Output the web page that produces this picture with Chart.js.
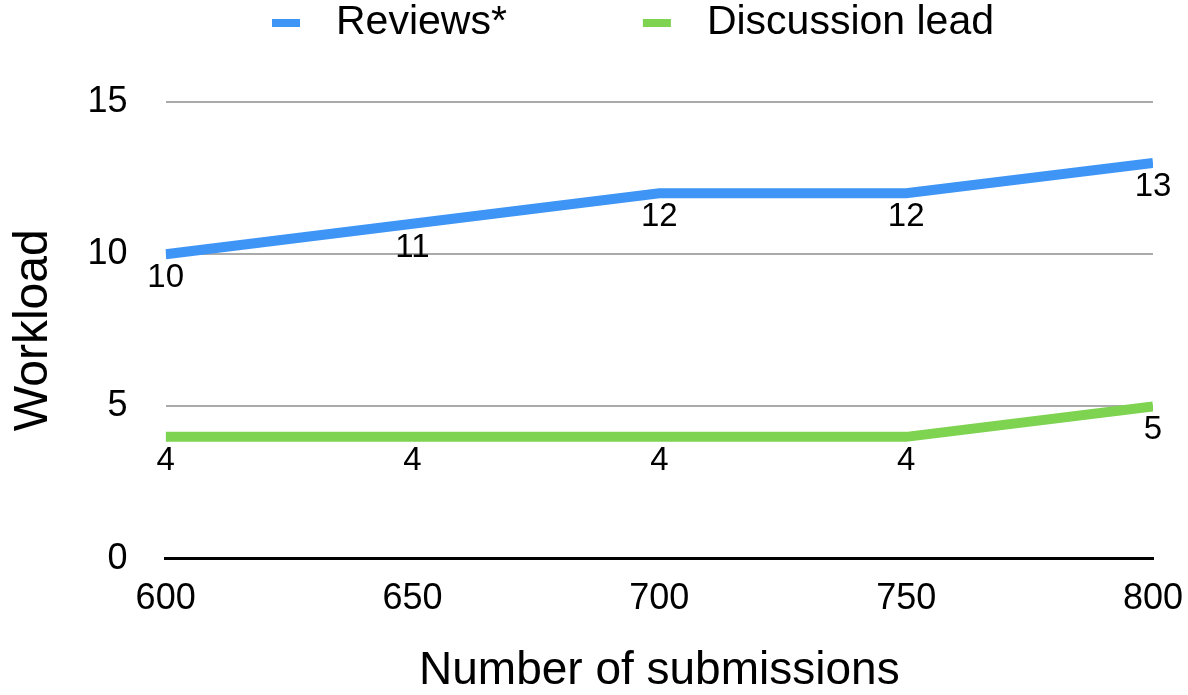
<!DOCTYPE html>
<html>
<head>
<meta charset="utf-8">
<script src="https://cdn.jsdelivr.net/npm/chart.js@4/dist/chart.umd.min.js"></script>
<style>
  html, body { margin: 0; padding: 0; background: #fff; }
  #wrap { width: 1188px; height: 695px; }
</style>
</head>
<body>
<div id="wrap"><canvas id="chart"></canvas></div>
<script>
// data
const submissions = [600, 650, 700, 750, 800];
const reviews = [10, 11, 12, 12, 13];
const discussionLead = [4, 4, 4, 4, 5];
const xTicks = [600, 650, 700, 750, 800];
const yTicks = [0, 5, 10, 15];

const FONT = '"Liberation Sans", Arial, Helvetica, sans-serif';
const BLUE = 'rgb(62, 149, 245)';
const GREEN = 'rgb(126, 211, 80)';

function toPoints(values) {
  return submissions.map((x, i) => ({ x: x, y: values[i] }));
}

// value labels under every point
const pointLabels = {
  id: 'pointLabels',
  afterDatasetsDraw(chart) {
    const ctx = chart.ctx;
    ctx.save();
    ctx.font = '33px ' + FONT;
    ctx.fillStyle = '#000';
    ctx.textAlign = 'center';
    ctx.textBaseline = 'middle';
    chart.data.datasets.forEach((ds, i) => {
      chart.getDatasetMeta(i).data.forEach((pt, j) => {
        ctx.fillText(String(ds.data[j].y), pt.x, pt.y + 24);
      });
    });
    ctx.restore();
  }
};

// legend drawn by hand: short thick bar, wide gap to the text
const topLegend = {
  id: 'topLegend',
  afterDraw(chart) {
    const ctx = chart.ctx;
    ctx.save();
    ctx.font = '41px ' + FONT;
    ctx.textBaseline = 'middle';
    let x = 272;
    const y = 23;
    chart.data.datasets.forEach(ds => {
      ctx.fillStyle = ds.borderColor;
      ctx.fillRect(x, y - 4, 28, 8);
      ctx.fillStyle = '#000';
      ctx.fillText(ds.label, x + 64, y);
      x += 64 + ctx.measureText(ds.label).width + 136;
    });
    ctx.restore();
  }
};

new Chart(document.getElementById('chart'), {
  type: 'line',
  data: {
    datasets: [
      {
        label: 'Reviews*',
        data: toPoints(reviews),
        borderColor: BLUE,
        backgroundColor: BLUE,
        borderWidth: 10,
        pointRadius: 0,
        tension: 0
      },
      {
        label: 'Discussion lead',
        data: toPoints(discussionLead),
        borderColor: GREEN,
        backgroundColor: GREEN,
        borderWidth: 10,
        pointRadius: 0,
        tension: 0
      }
    ]
  },
  options: {
    responsive: true,
    maintainAspectRatio: false,
    animation: false,
    layout: { padding: { top: 102, left: 5, right: 35, bottom: 0 } },
    plugins: {
      legend: { display: false },
      tooltip: { enabled: false }
    },
    scales: {
      x: {
        type: 'linear',
        min: 600,
        max: 800,
        afterBuildTicks: axis => { axis.ticks = xTicks.map(v => ({ value: v })); },
        // tick padding would otherwise be added to the side padding too
        afterFit: axis => { axis.paddingRight = 30; axis.paddingLeft = 30; },
        grid: { display: false, drawTicks: false },
        border: { color: '#000', width: 3 },
        ticks: { color: '#000', font: { family: FONT, size: 36 }, padding: 19 },
        title: {
          display: true,
          text: 'Number of submissions',
          color: '#000',
          font: { family: FONT, size: 46 },
          padding: { top: 4, bottom: -4 }
        }
      },
      y: {
        min: 0,
        max: 15,
        afterBuildTicks: axis => { axis.ticks = yTicks.map(v => ({ value: v })); },
        grid: {
          drawTicks: false,
          color: c => c.tick && c.tick.value === 0 ? 'rgba(0,0,0,0)' : 'rgb(170, 170, 170)',
          lineWidth: 2
        },
        border: { display: false },
        ticks: { color: '#000', font: { family: FONT, size: 36 }, padding: 38 },
        title: {
          display: true,
          text: 'Workload',
          color: '#000',
          font: { family: FONT, size: 48 },
          padding: { top: 0, bottom: -13 }
        }
      }
    }
  },
  plugins: [pointLabels, topLegend]
});
</script>
</body>
</html>
